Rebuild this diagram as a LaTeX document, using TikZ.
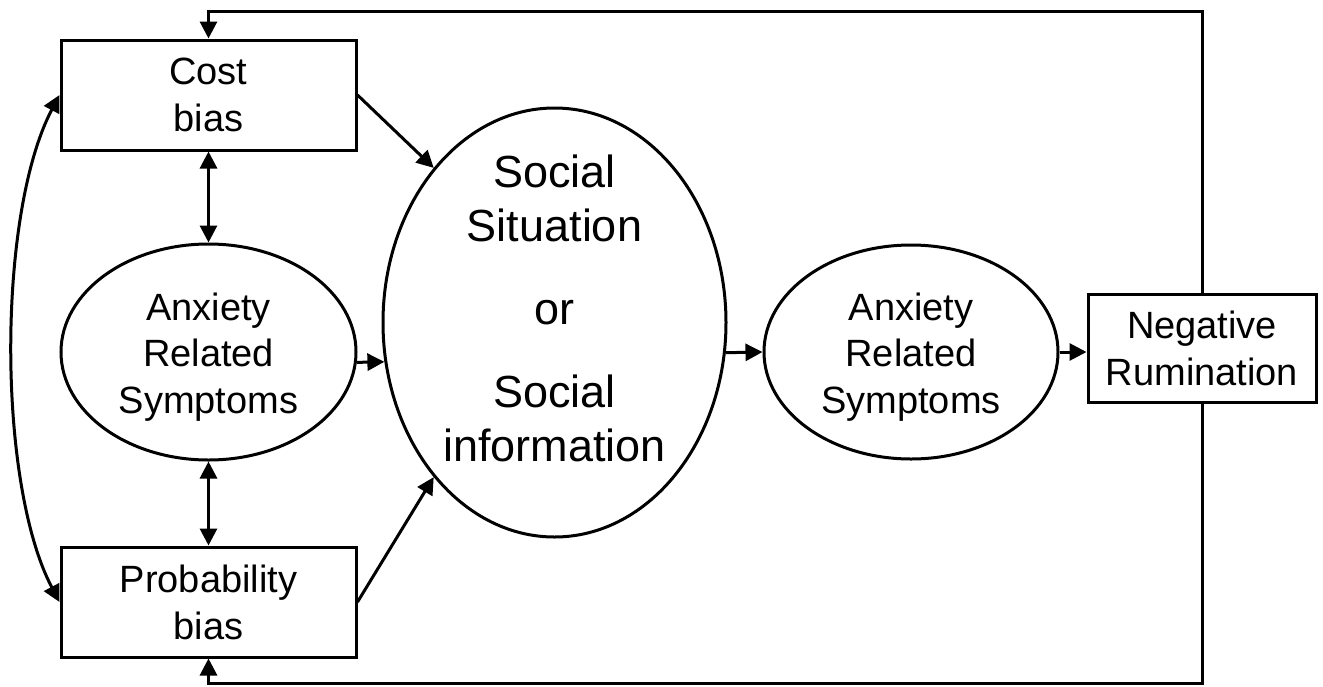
\documentclass[tikz,border=0pt]{standalone}
\usepackage{fontspec}
\setmainfont{Liberation Sans}
\usetikzlibrary{arrows.meta,shapes.geometric}
\begin{document}
\begin{tikzpicture}[x=1pt,y=-1pt,
  box/.style={draw, rectangle, line width=3pt, inner sep=0pt, align=center,
    font=\fontsize{38}{47}\selectfont},
  oval/.style={draw, ellipse, line width=3pt, inner sep=0pt, align=center,
    font=\fontsize{38}{46.5}\selectfont, text height=122pt, text depth=0pt},
  arr/.style={line width=3pt, -{Triangle[length=17pt,width=17pt]}},
  darr/.style={line width=3pt, {Triangle[length=17pt,width=17pt]}-{Triangle[length=17pt,width=17pt]}},
]
\useasboundingbox (0,0) rectangle (1323,686);

\node[box, minimum width=295pt, minimum height=110pt] (cost) at (208.5,95) {Cost\\bias};
\node[box, minimum width=295pt, minimum height=110pt] (prob) at (208.5,602) {Probability\\bias};
\node[oval, minimum width=295pt, minimum height=216pt] (anxL) at (208.5,352) {Anxiety\\Related\\Symptoms};
\node[oval, minimum width=294pt, minimum height=214pt] (anxR) at (911,352) {Anxiety\\Related\\Symptoms};
\node[oval, minimum width=343pt, minimum height=429pt, font=\fontsize{45}{54}\selectfont,
  text height=277pt] (social) at (554.5,322.5) {Social\\Situation\\[29pt]or\\[29pt]Social\\information};
\node[box, minimum width=228pt, minimum height=108pt] (neg) at (1202,348) {Negative\\Rumination};

\coordinate (tr) at (1202,11);
\coordinate (br) at (1202,683);

\draw[arr] (neg.north) -- (tr) -| (cost.north);
\draw[arr] (neg.south) -- (br) -| (prob.south);
\draw[darr] (cost.south) -- (anxL.north);
\draw[darr] (anxL.south) -- (prob.north);
\draw[darr] (cost.west) .. controls (-3,214) and (-3,483) .. (prob.west);
\draw[arr] (cost.east) -- (social.128);
\draw[arr] (prob.east) -- (social.232);
\draw[arr] (anxL.-4) -- (social.193);
\draw[arr] (social.-10) -- (anxR.west);
\draw[arr] (anxR.east) -- (anxR.east -| neg.west);
\end{tikzpicture}
\end{document}
